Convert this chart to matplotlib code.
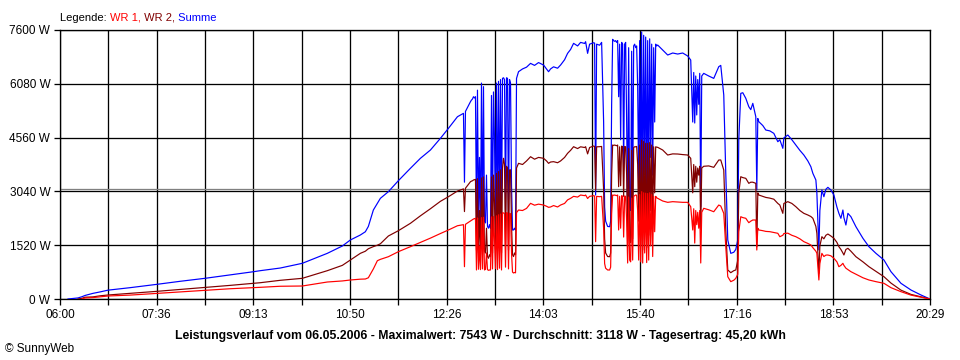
import numpy as np
import matplotlib
matplotlib.use("Agg")
import matplotlib.pyplot as plt
from matplotlib.offsetbox import TextArea, HPacker, AnchoredOffsetbox

plt.rcParams['font.family'] = ['Liberation Sans', 'DejaVu Sans']

# time of each sample (hh:mm)
times = (
    # morning, smooth rise
    ["06:08", "06:18", "06:22", "06:25", "06:33", "06:40", "06:48", "07:10", "07:37", "08:00",
     "08:25", "08:50", "09:13", "09:20", "09:40", "10:02", "10:27", "10:42", "10:50", "11:00",
     "11:05", "11:08", "11:13", "11:17", "11:20", "11:28", "11:38", "11:50", "12:00", "12:10",
     "12:20", "12:28", "12:37", "12:43", "12:44", "12:45", "12:50"]
    # clouds 12:51 - 13:36, one value per minute
    + ["%02d:%02d" % divmod(m, 60) for m in range(771, 817)]
    # 13:38 - 15:12
    + ["13:38", "13:42", "13:46", "13:50", "13:54", "13:58", "14:03", "14:06", "14:08", "14:10",
       "14:13", "14:17", "14:20", "14:24", "14:27", "14:30", "14:33", "14:37", "14:40", "14:44",
       "14:45", "14:47", "14:49", "14:53", "14:54", "14:55", "14:56", "14:59", "15:01", "15:03",
       "15:04", "15:05", "15:07", "15:09", "15:10", "15:11", "15:12"]
    # clouds 15:13 - 15:56, one value per minute
    + ["%02d:%02d" % divmod(m, 60) for m in range(913, 957)]
    # afternoon and evening
    + ["15:57", "16:02", "16:07", "16:12", "16:17", "16:22", "16:27", "16:30", "16:32", "16:33",
       "16:34", "16:35", "16:36", "16:37", "16:38", "16:39", "16:40", "16:41", "16:43", "16:48",
       "16:53", "16:58", "17:00", "17:03", "17:05", "17:07", "17:10", "17:13", "17:15", "17:17",
       "17:18", "17:20", "17:22", "17:25", "17:28", "17:30", "17:32", "17:35", "17:36", "17:37",
       "17:38", "17:42", "17:45", "17:49", "17:53", "17:57", "17:59", "18:02", "18:03", "18:07",
       "18:11", "18:15", "18:19", "18:23", "18:27", "18:30", "18:32", "18:35", "18:36", "18:38",
       "18:39", "18:41", "18:43", "18:45", "18:47", "18:50", "18:53", "18:56", "18:58", "19:00",
       "19:02", "19:03", "19:05", "19:07", "19:10", "19:15", "19:22", "19:28", "19:35", "19:43",
       "19:50", "20:00", "20:10", "20:20", "20:29"]
)

wr1 = (
    [np.nan, np.nan, 0, 30, 40, 60, 85, 110, 160, 200,
     245, 290, 320, 330, 360, 367, 480, 510, 537, 560,
     565, 600, 850, 1082, 1120, 1195, 1337, 1478, 1600, 1720,
     1850, 1950, 2070, 2100, 913, 2110, 2203]
    + [2220, 2240, 2260, 2270, 2280, 820, 2290, 840, 1500, 830,
       2300, 850, 2310, 820, 840, 1300, 830, 810, 820, 820,
       2320, 850, 2330, 1700, 860, 2350, 830, 2380, 870, 2400,
       820, 2438, 2430, 2420, 900, 2440, 2430, 850, 2420, 2410,
       1300, 760, 735, 750, 740, 2440]
    + [2514, 2500, 2560, 2703, 2650, 2680, 2655, 2620, 2590, 2600,
       2640, 2600, 2655, 2700, 2800, 2844, 2900, 2880, 2938, 2920,
       2938, 2840, 2900, 2919, 2910, 1620, 2900, 2890, 2900, 2000,
       1000, 870, 820, 820, 900, 2400, 2938]
    + [2930, 2938, 2930, 2920, 2938, 1950, 2900, 2000, 2920, 2900,
       1750, 2910, 2900, 2200, 1017, 2880, 1100, 1050, 2850, 1100,
       2900, 2920, 2938, 2930, 2500, 1100, 2950, 1050, 3032, 1017,
       3000, 1300, 2990, 1030, 2980, 1100, 3000, 1500, 2950, 1200,
       2900, 1900, 2900, 2860]
    + [2844, 2769, 2731, 2750, 2740, 2731, 2731, 2608, 1950, 2550,
       1580, 2500, 2100, 2450, 2000, 2500, 1017, 2450, 2562, 2520,
       2466, 2655, 2627, 2420, 1478, 630, 490, 530, 584, 700,
       1900, 2325, 2300, 2280, 2156, 2200, 2232, 2232, 1384, 2000,
       1950, 1930, 1910, 1902, 1880, 1856, 1760, 1800, 1850, 1860,
       1800, 1760, 1700, 1620, 1570, 1526, 1450, 1350, 1290, 537,
       1000, 1290, 1200, 1240, 1243, 1220, 1150, 1050, 913, 950,
       1008, 950, 870, 830, 772, 700, 600, 537, 490, 443,
       320, 207, 110, 50, 0]
)

wr2 = (
    [np.nan, 0, 20, 50, 60, 90, 113, 160, 217, 270,
     330, 385, 443, 460, 528, 584, 800, 950, 1100, 1290,
     1350, 1420, 1480, 1520, 1560, 1780, 1930, 2138, 2350, 2550,
     2760, 2890, 3050, 3110, 2470, 3130, 3314]
    + [3330, 3340, 3362, 3370, 3380, 1380, 3400, 1300, 2500, 1250,
       3420, 1400, 3450, 1350, 1300, 2000, 1200, 1150, 1250, 1200,
       3450, 1300, 3500, 2700, 1400, 3550, 1350, 3600, 1450, 3650,
       1300, 3700, 3975, 3800, 1500, 3750, 3700, 1380, 3644, 3650,
       2100, 1250, 1200, 1300, 1250, 3700]
    + [3833, 3800, 3900, 4020, 3950, 4000, 3975, 3900, 3833, 3870,
       3880, 3850, 3900, 4000, 4116, 4200, 4303, 4250, 4300, 4280,
       4303, 4100, 4280, 4322, 4310, 3080, 4300, 4303, 4310, 3080,
       1700, 1300, 1200, 1195, 1300, 3500, 4350]
    + [4340, 4350, 4340, 4330, 4350, 3173, 4300, 3200, 4320, 4300,
       2900, 4310, 4300, 3500, 1573, 4250, 1650, 1600, 4200, 1700,
       4280, 4300, 4300, 4310, 3800, 2200, 4350, 1500, 4490, 1384,
       4450, 2000, 4400, 1450, 4400, 1800, 4420, 2500, 4350, 1900,
       4300, 3000, 4300, 4290]
    + [4285, 4209, 4068, 4100, 4096, 4080, 4068, 3975, 3000, 3800,
       3173, 3750, 3300, 3700, 3500, 3750, 1950, 3700, 3750, 3760,
       3720, 3927, 3927, 3644, 1950, 820, 744, 800, 820, 1100,
       3000, 3455, 3430, 3409, 3268, 3300, 3300, 3268, 1478, 3000,
       2938, 2900, 2870, 2850, 2820, 2700, 2655, 2420, 2700, 2750,
       2700, 2608, 2500, 2420, 2373, 2330, 2280, 2050, 1856, 726,
       1500, 1760, 1700, 1800, 1836, 1780, 1715, 1600, 1478, 1400,
       1300, 1243, 1400, 1432, 1350, 1195, 1050, 913, 780, 630,
       450, 250, 130, 60, 0]
)

summe = (
    [0, 30, 65, 100, 160, 200, 250, 320, 415, 500,
     585, 680, 770, 800, 875, 1008, 1290, 1497, 1667, 1808,
     1900, 2050, 2514, 2700, 2844, 3032, 3343, 3692, 3975, 4209,
     4540, 4822, 5150, 5245, 3300, 5300, 5575]
    + [5620, 5650, 5715, 5680, 5715, 2232, 5900, 2300, 4000, 1950,
       6100, 2100, 6000, 2200, 2150, 3500, 2050, 2000, 2100, 2000,
       5750, 2200, 5850, 4500, 2300, 6100, 2250, 6150, 2400, 6200,
       2300, 6233, 6250, 6200, 2500, 6250, 6233, 2200, 6200, 6100,
       3200, 1950, 1950, 2000, 1950, 6233]
    + [6422, 6500, 6550, 6657, 6600, 6680, 6610, 6500, 6422, 6500,
       6560, 6520, 6610, 6760, 6940, 7050, 7223, 7150, 7250, 7220,
       7270, 6940, 7200, 7240, 7230, 2938, 7200, 7170, 7250, 5000,
       2600, 2200, 2050, 2043, 2200, 5500, 7336]
    + [7300, 7280, 7300, 7250, 7300, 5715, 7200, 4500, 7250, 7200,
       3644, 7200, 7250, 5000, 2466, 7100, 2600, 2500, 7000, 2550,
       7150, 7200, 7100, 7150, 6000, 3200, 7300, 2800, 7543, 2608,
       7450, 3500, 7400, 2700, 7300, 3000, 7350, 4000, 7200, 3500,
       7100, 5000, 7200, 7150]
    + [7175, 7034, 6893, 6950, 6921, 6950, 6865, 6751, 5000, 6400,
       4972, 6300, 5200, 6200, 5500, 6375, 2608, 6300, 6375, 6300,
       6233, 6563, 6600, 5763, 3560, 1667, 1290, 1320, 1400, 1667,
       4490, 5810, 5828, 5670, 5433, 5350, 5528, 5150, 3080, 5100,
       5010, 4900, 4774, 4750, 4680, 4444, 4500, 4257, 4550, 4633,
       4500, 4350, 4200, 4068, 3900, 3738, 3550, 3362, 3000, 1384,
       2500, 3080, 2890, 3100, 3155, 3080, 2938, 2600, 2420, 2280,
       2514, 2300, 2090, 2420, 2325, 2043, 1715, 1478, 1290, 1102,
       772, 443, 254, 113, 0]
)

durchschnitt = 3118
y_ticks = [0, 1520, 3040, 4560, 6080, 7600]
x_labels = ["06:00", "07:36", "09:13", "10:50", "12:26", "14:03", "15:40", "17:16", "18:53", "20:29"]


def to_min(s):
    h, m = s.split(":")
    return int(h) * 60 + int(m)


t = np.array([to_min(s) for s in times])
x0, x1 = to_min(x_labels[0]), to_min(x_labels[-1])

fig = plt.figure(figsize=(9.6, 3.6), dpi=100)
fig.patch.set_facecolor("white")
ax = fig.add_axes([60 / 960, 1 - 299 / 360, 870 / 960, 269 / 360])

px = 0.72  # one pixel in points
ax.plot(t, summe, color="#0000ff", lw=px * 1.2, zorder=3)
ax.plot(t, wr2, color="#800000", lw=px * 1.2, zorder=4)
ax.plot(t, wr1, color="#ff0000", lw=px * 1.2, zorder=5)
ax.axhline(durchschnitt, color="#808080", lw=px * 1.3, zorder=2)

ax.set_xlim(x0, x1)
ax.set_ylim(0, y_ticks[-1])
major = np.linspace(x0, x1, len(x_labels))
minor = np.linspace(x0, x1, 2 * len(x_labels) - 1)
ax.set_xticks(major)
ax.set_xticklabels(x_labels)
ax.set_xticks(minor, minor=True)
ax.set_yticks(y_ticks)
ax.set_yticklabels(["%d W" % v for v in y_ticks])
ax.grid(which="both", axis="x", color="black", lw=px * 1.3, zorder=1)
ax.grid(which="major", axis="y", color="black", lw=px * 1.3, zorder=1)
ax.tick_params(which="both", direction="out", length=4, width=px * 1.3, labelsize=8.5, pad=3)
for s in ax.spines.values():
    s.set_linewidth(px * 1.3)

# legend line at the top
parts = [TextArea("Legende: ", textprops=dict(color="black", size=8)),
         TextArea("WR 1,", textprops=dict(color="#ff0000", size=8)),
         TextArea(" WR 2,", textprops=dict(color="#800000", size=8)),
         TextArea(" Summe", textprops=dict(color="#0000ff", size=8))]
box = HPacker(children=parts, align="baseline", pad=0, sep=0)
anch = AnchoredOffsetbox(loc="lower left", child=box, pad=0, frameon=False,
                         bbox_to_anchor=(60 / 960, 1 - 23 / 360), bbox_transform=fig.transFigure,
                         borderpad=0)
fig.add_artist(anch)

fig.text(480 / 960, 1 - 336 / 360,
         "Leistungsverlauf vom 06.05.2006 - Maximalwert: 7543 W - Durchschnitt: 3118 W - Tagesertrag: 45,20 kWh",
         ha="center", va="center", fontsize=8.8, fontweight="bold")
fig.text(5 / 960, 1 - 349 / 360, "\u00a9 SunnyWeb", ha="left", va="center", fontsize=8.5)

fig.savefig("out.png", dpi=100)
